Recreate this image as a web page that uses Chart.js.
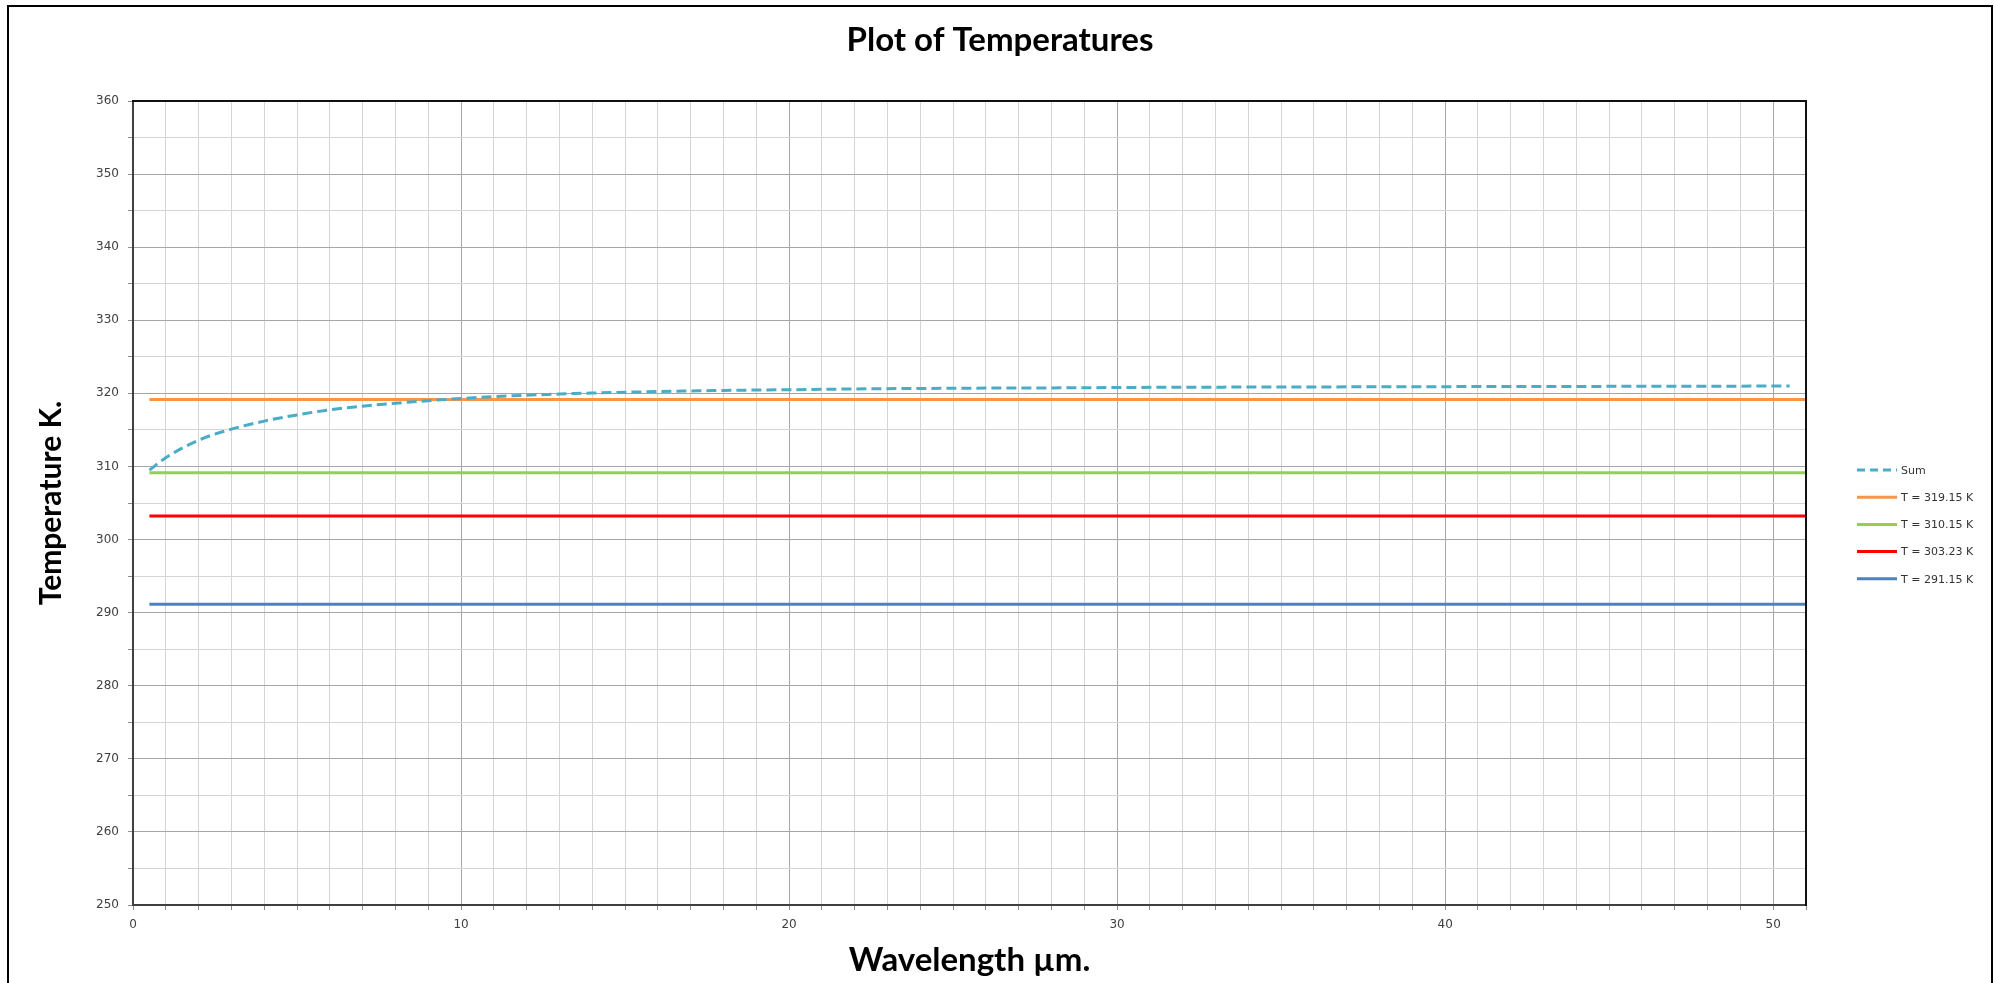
<!DOCTYPE html>
<html>
<head>
<meta charset="utf-8">
<script src="https://cdn.jsdelivr.net/npm/chart.js@4.4.1/dist/chart.umd.min.js"></script>
<style>
  html, body { margin: 0; padding: 0; background: #fff; overflow: hidden; }
  #wrap { position: relative; width: 1995px; height: 983px; }
  #frame { position: absolute; left: 7px; top: 5px; width: 1986px; height: 1100px; border: 2px solid #000; box-sizing: border-box; pointer-events: none; }
</style>
</head>
<body>
<div id="wrap">
  <canvas id="c" width="1995" height="983"></canvas>
  <div id="frame"></div>
</div>
<script>
// ---- data ----
const chartTitle = 'Plot of Temperatures';
const xTitle = 'Wavelength µm.';
const yTitle = 'Temperature K.';

const sumX = [0.5, 1, 2, 3, 4, 5, 6, 7, 8, 9, 10, 11, 12, 13, 14, 15, 16, 18, 20, 22, 25, 28, 30, 33, 36, 40, 44, 48, 50.5];
const sumY = [309.5, 311.2, 313.6, 315.1, 316.2, 317.05, 317.75, 318.25, 318.65, 319.0, 319.3, 319.55, 319.75, 319.9, 320.05, 320.15, 320.25, 320.4, 320.5, 320.6, 320.7, 320.75, 320.8, 320.85, 320.88, 320.92, 320.95, 320.98, 321.0];

const levelLabels = ['T = 319.15 K', 'T = 310.15 K', 'T = 303.23 K', 'T = 291.15 K'];
const levelValues = [319.15, 309.15, 303.23, 291.15];
const levelXRange = [0.5, 51];

const seriesNames = ['Sum'].concat(levelLabels);
const seriesColors = ['#4bacc6', '#f79646', '#92d050', '#ff0000', '#4f81bd'];

const xMin = 0, xMax = 51, xStep = 1, xLabelEvery = 10;
const yMin = 250, yMax = 360, yStep = 5, yLabelEvery = 10;

// ---- build datasets ----
const datasets = [];
datasets.push({
  label: seriesNames[0],
  data: sumX.map((x, i) => ({ x: x, y: sumY[i] })),
  borderColor: seriesColors[0],
  borderWidth: 3,
  borderDash: [10, 5],
  pointRadius: 0,
  cubicInterpolationMode: 'monotone',
  fill: false,
  order: 0
});
levelValues.forEach((v, i) => {
  datasets.push({
    label: levelLabels[i],
    data: levelXRange.map(x => ({ x: x, y: v })),
    borderColor: seriesColors[i + 1],
    borderWidth: 3,
    pointRadius: 0,
    fill: false,
    order: i + 1
  });
});

const majorGrid = '#a6a6a6';
const minorGrid = '#d4d4d4';

const decorPlugin = {
  id: 'decor',
  afterDraw(chart) {
    const ctx = chart.ctx;
    const a = chart.chartArea;
    ctx.save();
    // top and right frame of plot area
    ctx.strokeStyle = '#111';
    ctx.lineWidth = 2;
    ctx.beginPath();
    ctx.moveTo(a.left - 1, a.top);
    ctx.lineTo(a.right, a.top);
    ctx.lineTo(a.right, a.bottom + 1);
    ctx.stroke();

    // title
    ctx.fillStyle = '#000';
    ctx.font = 'bold 33px Lato';
    ctx.textAlign = 'center';
    ctx.textBaseline = 'alphabetic';
    ctx.fillText(chartTitle, 1000, 51);

    // legend
    const lx = 1857, lw = 40, ly0 = 470, ldy = 27.2;
    chart.data.datasets.forEach((ds, i) => {
      const y = ly0 + i * ldy;
      ctx.strokeStyle = ds.borderColor;
      ctx.lineWidth = 3;
      ctx.setLineDash(ds.borderDash ? [8, 5] : []);
      ctx.beginPath();
      ctx.moveTo(lx, y);
      ctx.lineTo(lx + lw, y);
      ctx.stroke();
      ctx.setLineDash([]);
      ctx.fillStyle = '#333';
      ctx.font = '11px "DejaVu Sans"';
      ctx.textAlign = 'left';
      ctx.textBaseline = 'middle';
      ctx.fillText(ds.label, lx + lw + 4, y + 1);
    });
    ctx.restore();
  }
};

new Chart(document.getElementById('c'), {
  type: 'line',
  data: { datasets: datasets },
  plugins: [decorPlugin],
  options: {
    responsive: false,
    animation: false,
    layout: { padding: { top: 101, right: 189, left: 0, bottom: 0 } },
    plugins: {
      legend: { display: false },
      title: { display: false },
      tooltip: { enabled: false }
    },
    scales: {
      x: {
        type: 'linear',
        min: xMin, max: xMax,
        afterFit(scale) { scale.height = 78; },
        ticks: {
          stepSize: xStep,
          autoSkip: false,
          maxRotation: 0,
          padding: 8,
          color: '#404040',
          font: { family: 'DejaVu Sans', size: 12 },
          callback: (v) => (v % xLabelEvery === 0 ? String(v) : '')
        },
        grid: {
          color: (c) => (c.tick && c.tick.value % xLabelEvery === 0 ? majorGrid : minorGrid),
          tickColor: '#8c8c8c',
          tickLength: 5,
          lineWidth: 1
        },
        border: { display: true, color: '#404040', width: 2 },
        title: {
          display: true,
          text: xTitle,
          color: '#000',
          font: { family: 'Lato', size: 33, weight: 'bold', lineHeight: 1.2 },
          padding: { top: 0, bottom: 3 }
        }
      },
      y: {
        type: 'linear',
        min: yMin, max: yMax,
        afterFit(scale) { scale.width = 133; },
        ticks: {
          stepSize: yStep,
          autoSkip: false,
          padding: 9,
          color: '#404040',
          font: { family: 'DejaVu Sans', size: 12 },
          callback: (v) => (v % yLabelEvery === 0 ? String(v) : '')
        },
        grid: {
          color: (c) => (c.tick && c.tick.value % yLabelEvery === 0 ? majorGrid : minorGrid),
          tickColor: '#8c8c8c',
          tickLength: 5,
          lineWidth: 1
        },
        border: { display: true, color: '#404040', width: 2 },
        title: {
          display: true,
          text: yTitle,
          color: '#000',
          font: { family: 'Lato', size: 30, weight: 'bold', lineHeight: 1.2 },
          padding: { top: 33, bottom: 0 }
        }
      }
    }
  }
});
</script>
</body>
</html>
